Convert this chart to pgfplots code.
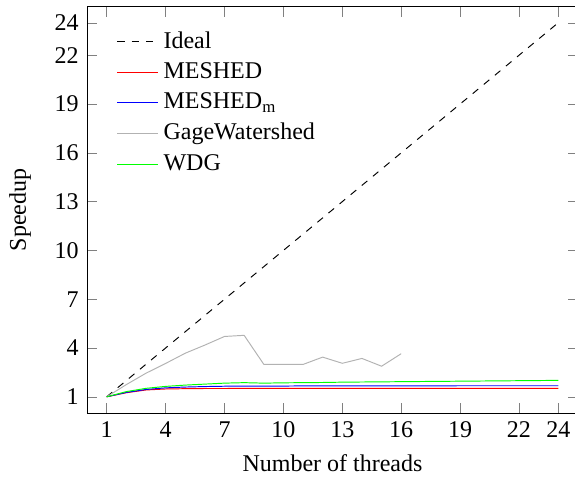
\documentclass[border=0pt]{standalone}
\usepackage{pgfplots}
\pgfplotsset{compat=1.18}
\usepackage{fontspec}
\setmainfont{Liberation Serif}
\begin{document}
\begin{tikzpicture}
\begin{axis}[
  at={(0,0)}, anchor=south west,
  scale only axis,
  width=204.5pt, height=169.4pt,
  xmin=0, xmax=25, ymin=0, ymax=25,
  xtick={1,4,7,10,13,16,19,22,24},
  ytick={1,4,7,10,13,16,19,22,24},
  /pgf/number format/assume math mode=true,
  tick style={gray},
  xlabel={Number of threads},
  ylabel={Speedup},
  ylabel shift=3pt,
  legend style={draw=none, fill=none, at={(0.045,0.963)}, anchor=north west, font=\normalsize, row sep=0.5pt},
  legend cell align=left,
]
\addplot[black, dashed] coordinates {(1,1) (24,24)};
\addlegendentry{Ideal}
\addplot[color=red] coordinates {
(1,1) (2,1.25) (3,1.42) (4,1.48) (5,1.50) (6,1.51) (7,1.51) (8,1.52) (9,1.52) (10,1.52)
(11,1.52) (12,1.52) (13,1.52) (14,1.52) (15,1.52) (16,1.52) (17,1.52) (18,1.52)
(19,1.52) (20,1.52) (21,1.52) (22,1.52) (23,1.52) (24,1.52)};
\addlegendentry{MESHED}
\addplot[color=blue] coordinates {
(1,1) (2,1.27) (3,1.45) (4,1.55) (5,1.60) (6,1.63) (7,1.65) (8,1.66) (9,1.66) (10,1.66)
(11,1.67) (12,1.67) (13,1.67) (14,1.67) (15,1.67) (16,1.67) (17,1.67) (18,1.67)
(19,1.68) (20,1.68) (21,1.68) (22,1.68) (23,1.68) (24,1.68)};
\addlegendentry{MESHED\textsubscript{m}}
\addplot[color=lightgray!80!gray] coordinates {
(1,1) (2,1.75) (3,2.45) (4,3.05) (5,3.68) (6,4.18) (7,4.71) (8,4.78) (9,3.0) (10,3.0)
(11,2.99) (12,3.44) (13,3.06) (14,3.36) (15,2.88) (16,3.65)};
\addlegendentry{GageWatershed}
\addplot[color=green] coordinates {
(1,1) (2,1.32) (3,1.52) (4,1.64) (5,1.72) (6,1.78) (7,1.84) (8,1.87) (9,1.84) (10,1.86)
(11,1.87) (12,1.88) (13,1.90) (14,1.91) (15,1.92) (16,1.93) (17,1.94) (18,1.95)
(19,1.96) (20,1.97) (21,1.98) (22,1.99) (23,2.00) (24,2.01)};
\addlegendentry{WDG}
\end{axis}
\pgfresetboundingbox
\useasboundingbox (-36.28pt,-29.58pt) rectangle (203.3pt,172.1pt);
\end{tikzpicture}
\end{document}
